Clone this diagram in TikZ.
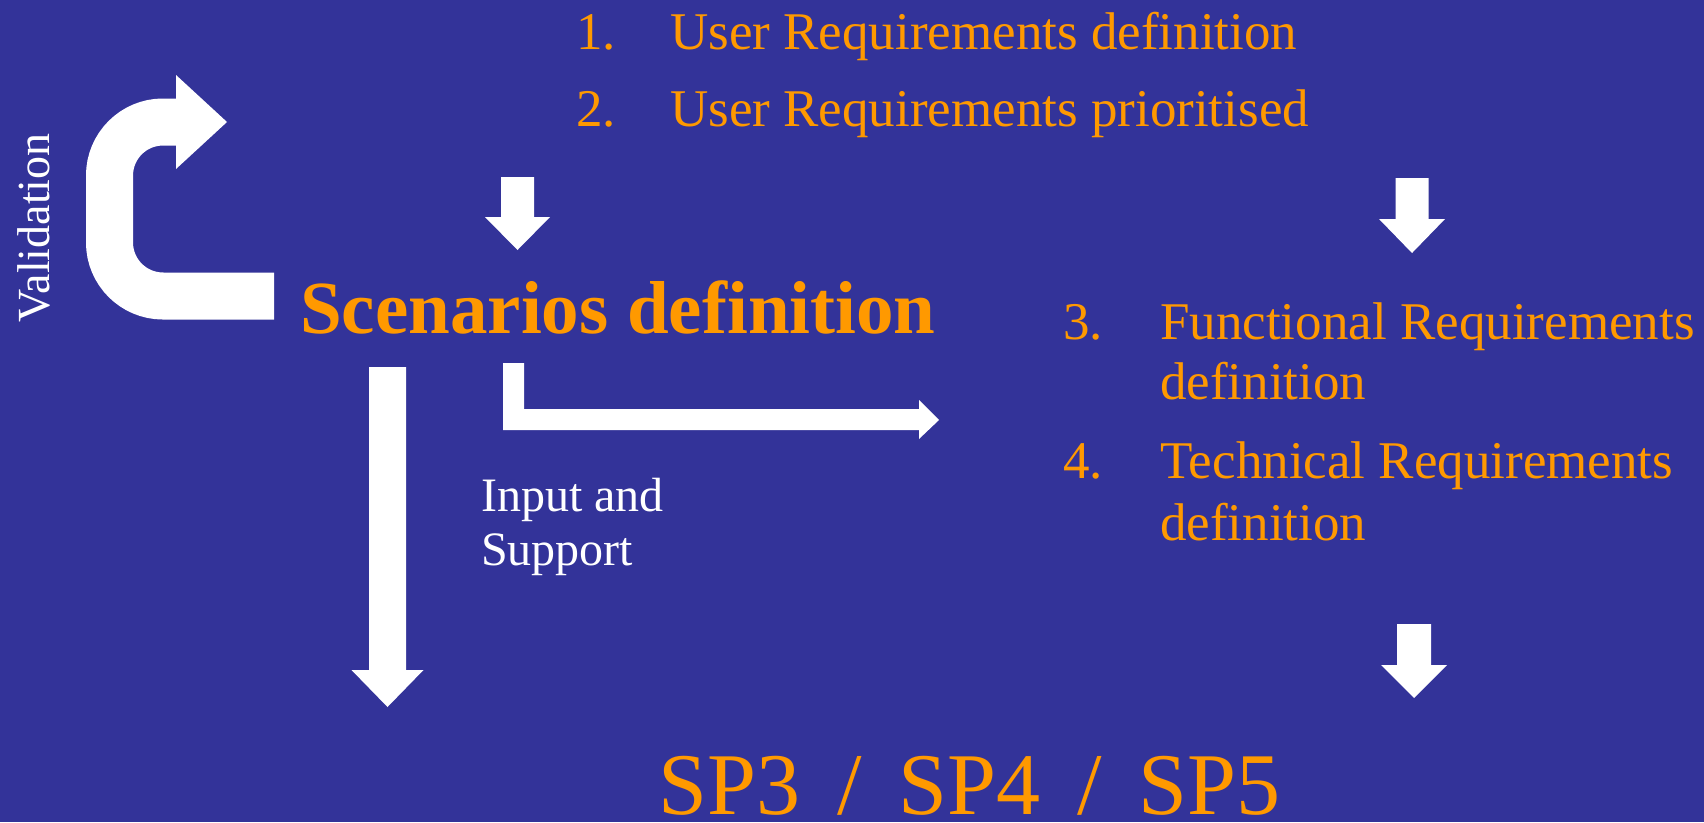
\documentclass[tikz,border=0pt]{standalone}
\usepackage{fontspec}
\setmainfont{Liberation Serif}
\definecolor{bgblue}{HTML}{333399}
\definecolor{txtorange}{HTML}{FF9900}
\newcommand\blockdown[6]{% cx, top, headbase, tip, shafthalf, headhalf
  \fill[white] ({#1-#5},#2) -- ({#1+#5},#2) -- ({#1+#5},#3) -- ({#1+#6},#3)
    -- (#1,#4) -- ({#1-#6},#3) -- ({#1-#5},#3) -- cycle;}
\begin{document}
\begin{tikzpicture}[x=1pt,y=-1pt,
  lbl/.style={anchor=base west,inner sep=0pt,text=txtorange,font=\fontsize{53}{60}\selectfont},
  wlbl/.style={anchor=base west,inner sep=0pt,text=white,font=\fontsize{48}{54}\selectfont}]
\fill[bgblue] (0,0) rectangle (1704,822);
\useasboundingbox (0,0) rectangle (1704,822);

% top list
\node[lbl] (n1) at (576,49) {1.};
\node[lbl] (t1) at (670,49) {User Requirements definition};
\node[lbl] (n2) at (576,126) {2.};
\node[lbl] (t2) at (670,126) {User Requirements prioritised};

% scenarios
\node[anchor=base west,inner sep=0pt,text=txtorange,font=\fontsize{75}{80}\selectfont\bfseries] (scen) at (300,333) {Scenarios definition};

% right list
\node[lbl] (n3) at (1063,339) {3.};
\node[lbl] (t3) at (1160,339) {Functional Requirements};
\node[lbl] (t3b) at (1160,399) {definition};
\node[lbl] (n4) at (1063,478) {4.};
\node[lbl] (t4) at (1160,478) {Technical Requirements};
\node[lbl] (t4b) at (1160,540) {definition};

% input and support
\node[wlbl] (in1) at (481,511) {Input and};
\node[wlbl] (in2) at (481,565) {Support};

% validation
\node[anchor=base,inner sep=0pt,text=white,rotate=90,font=\fontsize{46}{50}\selectfont] (val) at (49,228) {Validation};

% bottom
\node[anchor=base west,inner sep=0pt,text depth=0pt,text=txtorange,font=\fontsize{88}{90}\selectfont] (sp) at (658,814) {SP3\hspace{15pt} / \hspace{15pt}SP4\hspace{15pt} / \hspace{15pt}SP5};

% down arrows
\blockdown{517.5}{177}{217}{250}{16.5}{32.5}
\blockdown{1412}{178}{219}{253}{16.5}{33}
\blockdown{1414}{624}{665}{698}{17}{33}
\blockdown{387.5}{367}{670}{707}{18.5}{36}

% bent arrow
\fill[white] (503,363) -- (524,363) -- (524,409) -- (919,409) -- (919,400) -- (939,420)
  -- (919,439) -- (919,430) -- (503,430) -- cycle;

% curved validation arrow
\draw[white,line width=47pt,rounded corners=53.5pt] (274,296) -- (109.5,296) -- (109.5,122) -- (177,122);
\fill[white] (176,75) -- (227,122) -- (176,169) -- cycle;
\end{tikzpicture}
\end{document}
